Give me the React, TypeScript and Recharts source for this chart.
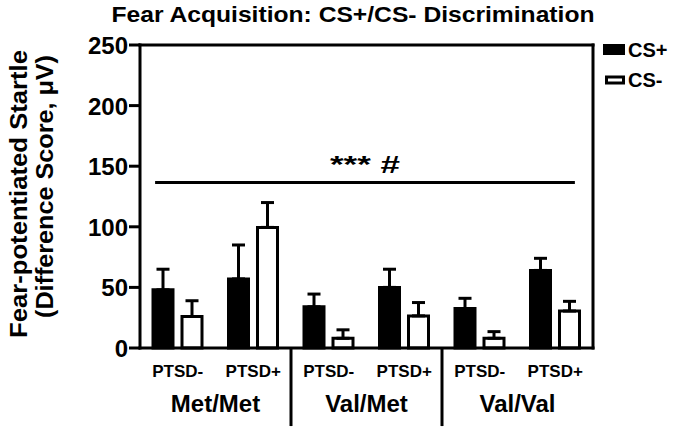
import { BarChart, Bar, XAxis, YAxis, ErrorBar, ReferenceLine, Legend } from "recharts"

// ─── Data ────────────────────────────────────────────────────────────────────

const categories = ["PTSD-", "PTSD+", "PTSD-", "PTSD+", "PTSD-", "PTSD+"]
const genotypes = ["Met/Met", "Val/Met", "Val/Val"]
const csPlus = [48, 57, 34, 50, 32.5, 64]
const csPlusErr = [17, 28, 10.5, 15, 8.5, 10]
const csMinus = [26, 99.5, 8, 26.5, 8, 30.5]
const csMinusErr = [13, 20.5, 7, 11, 5.5, 8]
const yTicks = [0, 50, 100, 150, 200, 250]
const groupTicks = [1, 3, 5]
const groupBounds = [2, 4]
const sigLevel = 136.5
const sigLabel = "*** #"

const data = categories.map((name, i) => ({
  name,
  idx: i,
  plus: csPlus[i],
  plusErr: [0, csPlusErr[i]],
  minus: csMinus[i],
  minusErr: [0, csMinusErr[i]],
}))

const FONT = "'Liberation Sans', Arial, Helvetica, sans-serif"

// ─── Ticks / labels ──────────────────────────────────────────────────────────

function YTick({ x, y, payload }: any) {
  return (
    <text x={x} y={y + 9} textAnchor="end" fontFamily={FONT} fontWeight="bold" fontSize={24} fill="#000">
      {payload.value}
    </text>
  )
}

function SubTick({ x, y, payload }: any) {
  return (
    <text x={x} y={y + 29} textAnchor="middle" fontFamily={FONT} fontWeight="bold" fontSize={17} fill="#000">
      {payload.value}
    </text>
  )
}

function GroupTick({ x, y, payload }: any) {
  return (
    <text x={x} y={y + 34} textAnchor="middle" fontFamily={FONT} fontWeight="bold" fontSize={24} fill="#000">
      {genotypes[(payload.value - 1) / 2]}
    </text>
  )
}

function SigLabel({ viewBox }: any) {
  const cx = viewBox.x + viewBox.width / 2
  return (
    <text
      x={cx}
      y={viewBox.y - 10}
      textAnchor="middle"
      fontFamily={FONT}
      fontWeight="bold"
      fontSize={24}
      textLength={70}
      lengthAdjust="spacingAndGlyphs"
      fill="#000"
    >
      {sigLabel}
    </text>
  )
}

function LegendBox({ payload }: any) {
  return (
    <svg width={686} height={100} style={{ display: "block" }}>
      {(payload || []).map((entry: any, i: number) => {
        const filled = entry.value === "CS+"
        return (
          <g key={entry.value}>
            {filled ? (
              <rect x={603} y={44} width={22} height={11} fill="#000" />
            ) : (
              <rect x={606.5} y={77} width={17} height={6} fill="#fff" stroke="#000" strokeWidth={3} />
            )}
            <text x={628} y={57 + i * 30} fontFamily={FONT} fontWeight="bold" fontSize={20} fill="#000">
              {entry.value}
            </text>
          </g>
        )
      })}
    </svg>
  )
}

// ─── Chart ───────────────────────────────────────────────────────────────────

export default function App() {
  return (
    <div style={{ width: 686, height: 433, background: "#fff" }}>
      <style>{"body{margin:0;background:#fff}"}</style>
      <BarChart
        width={686}
        height={433}
        data={data}
        margin={{ top: 45, right: 93, bottom: 0, left: 0 }}
        barSize={20}
        barGap={9}
      >
        <XAxis
          dataKey="name"
          height={30}
          axisLine={{ stroke: "#000", strokeWidth: 3, strokeLinecap: "square" }}
          tickLine={false}
          tickSize={0}
          tickMargin={0}
          interval={0}
          tick={SubTick}
        />
        <XAxis
          xAxisId="num"
          dataKey="idx"
          type="number"
          domain={[0, 6]}
          ticks={groupTicks}
          allowDataOverflow
          height={55}
          axisLine={false}
          tickLine={false}
          tickSize={0}
          tickMargin={0}
          interval={0}
          tick={GroupTick}
        />
        <YAxis
          width={140}
          domain={[0, 250]}
          ticks={yTicks}
          interval={0}
          axisLine={{ stroke: "#000", strokeWidth: 3, strokeLinecap: "square" }}
          tickLine={{ stroke: "#000", strokeWidth: 3 }}
          tickSize={11}
          tickMargin={1}
          tick={YTick}
        />

        {/* top and right frame */}
        <ReferenceLine
          xAxisId="num"
          ifOverflow="visible"
          segment={[
            { x: 0, y: 250 },
            { x: 6, y: 250 },
          ]}
          stroke="#000"
          strokeWidth={3}
          strokeLinecap="square"
        />
        <ReferenceLine
          xAxisId="num"
          ifOverflow="visible"
          segment={[
            { x: 6, y: 0 },
            { x: 6, y: 250 },
          ]}
          stroke="#000"
          strokeWidth={3}
          strokeLinecap="square"
        />

        {groupBounds.map((b) => (
          <ReferenceLine
            key={b}
            xAxisId="num"
            ifOverflow="visible"
            segment={[
              { x: b, y: 0 },
              { x: b, y: -64.4 },
            ]}
            stroke="#000"
            strokeWidth={3}
          />
        ))}
        <ReferenceLine
          xAxisId="num"
          ifOverflow="visible"
          segment={[
            { x: 0.2, y: sigLevel },
            { x: 5.76, y: sigLevel },
          ]}
          stroke="#000"
          strokeWidth={3}
          label={SigLabel}
        />

        <Legend
          layout="vertical"
          align="center"
          verticalAlign="middle"
          wrapperStyle={{ left: 0, top: 0, width: 686, height: 100, pointerEvents: "none" }}
          content={LegendBox}
        />

        <Bar dataKey="plus" name="CS+" fill="#000" stroke="#000" strokeWidth={3} isAnimationActive={false}>
          <ErrorBar dataKey="plusErr" width={6.5} stroke="#000" strokeWidth={3} />
        </Bar>
        <Bar dataKey="minus" name="CS-" fill="#fff" stroke="#000" strokeWidth={3} isAnimationActive={false}>
          <ErrorBar dataKey="minusErr" width={6.5} stroke="#000" strokeWidth={3} />
        </Bar>

        <text
          x={353}
          y={22}
          textAnchor="middle"
          fontFamily={FONT}
          fontWeight="bold"
          fontSize={22}
          textLength={483}
          lengthAdjust="spacingAndGlyphs"
          fill="#000"
        >
          Fear Acquisition: CS+/CS- Discrimination
        </text>
        <text
          transform="translate(26.5,194) rotate(-90)"
          textAnchor="middle"
          fontFamily={FONT}
          fontWeight="bold"
          fontSize={24}
          textLength={288}
          lengthAdjust="spacingAndGlyphs"
          fill="#000"
        >
          Fear-potentiated Startle
        </text>
        <text
          transform="translate(53,186.5) rotate(-90)"
          textAnchor="middle"
          fontFamily={FONT}
          fontWeight="bold"
          fontSize={24}
          textLength={263}
          lengthAdjust="spacingAndGlyphs"
          fill="#000"
        >
          (Difference Score, μV)
        </text>
      </BarChart>
    </div>
  )
}
